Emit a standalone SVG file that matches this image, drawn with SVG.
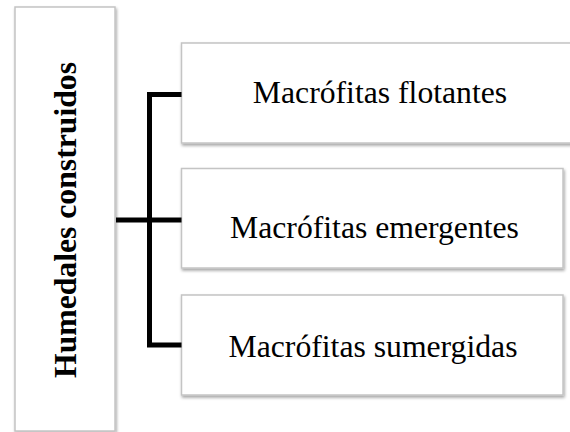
<svg xmlns="http://www.w3.org/2000/svg" width="570" height="432" viewBox="0 0 570 432">
<defs>
<filter id="sh" x="-10%" y="-10%" width="120%" height="130%">
<feDropShadow dx="1" dy="2" stdDeviation="1.5" flood-color="#000" flood-opacity="0.35"/>
</filter>
<style>
.box{fill:#fff;stroke:#c4c4c4;stroke-width:1.5;filter:url(#sh)}
.lbl{font-family:"Liberation Serif","Times New Roman",serif;font-size:31.7px;fill:#000;text-anchor:middle}
.main{font-weight:bold}
.con{fill:none;stroke:#000;stroke-width:5}
</style>
</defs>
<rect width="570" height="432" fill="#fff"/>
<g id="node-humedales">
<rect class="box" x="15" y="7" width="100" height="424"/>
<text class="lbl main" transform="translate(76,220) rotate(-90)">Humedales construidos</text>
</g>
<g id="node-flotantes">
<rect class="box" x="181.5" y="43" width="400" height="100"/>
<text class="lbl" x="380" y="103">Macrófitas flotantes</text>
</g>
<g id="node-emergentes">
<rect class="box" x="181.5" y="168.5" width="381.5" height="99.5"/>
<text class="lbl" x="374.5" y="238">Macrófitas emergentes</text>
</g>
<g id="node-sumergidas">
<rect class="box" x="181.5" y="295" width="381.5" height="100"/>
<text class="lbl" x="373" y="357">Macrófitas sumergidas</text>
</g>
<g id="connectors">
<path class="con" d="M181.5,94.5 H149.5 V345 H181.5"/>
<path class="con" d="M116,220 H181.5"/>
</g>
</svg>
